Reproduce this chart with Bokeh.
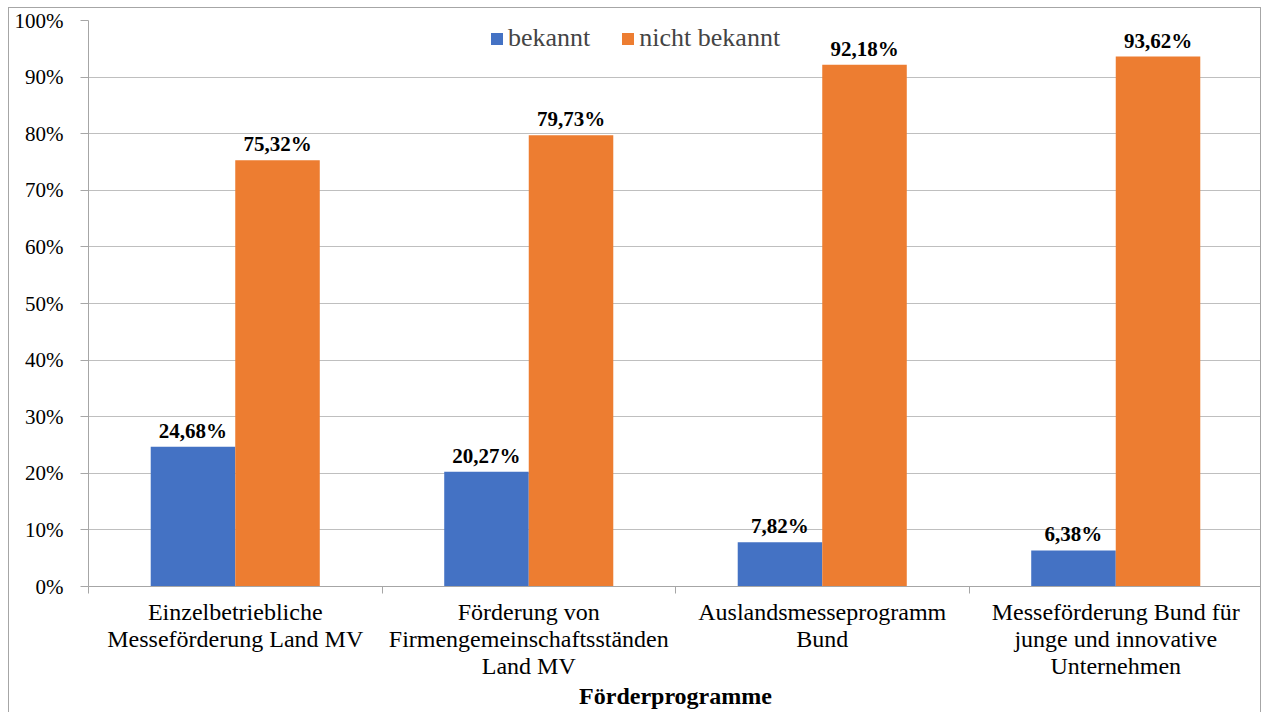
from bokeh.plotting import figure
from bokeh.models import (Range1d, LinearAxis, FixedTicker,
                          PrintfTickFormatter, ColumnDataSource, Legend, LegendItem)
from bokeh.transform import dodge
from bokeh.core.properties import value
from bokeh.embed import file_html
from bokeh.resources import INLINE

categories = ["Einzelbetriebliche\nMesseförderung Land MV",
              "Förderung von\nFirmengemeinschaftsständen\nLand MV",
              "Auslandsmesseprogramm\nBund",
              "Messeförderung Bund für\njunge und innovative\nUnternehmen"]
bekannt = [24.68, 20.27, 7.82, 6.38]
nicht_bekannt = [75.32, 79.73, 92.18, 93.62]
series_names = ["bekannt", "nicht bekannt"]
y_ticks = [0, 10, 20, 30, 40, 50, 60, 70, 80, 90, 100]
x_title = "Förderprogramme"

FONT = "Liberation Serif"
BLUE = "#4472C4"
ORANGE = "#ED7D31"
GRID = "#bfbfbf"
AXIS = "#a6a6a6"

n_cat = len(categories)
centers = [i + 0.5 for i in range(n_cat)]
bounds = list(range(n_cat + 1))

src = ColumnDataSource(dict(
    xc=centers, b=bekannt, n=nicht_bekannt,
    bl=[("%.2f%%" % v).replace(".", ",") for v in bekannt],
    nl=[("%.2f%%" % v).replace(".", ",") for v in nicht_bekannt],
))

p = figure(width=1253, height=705, x_range=Range1d(0, n_cat),
           y_range=Range1d(0, 100), output_backend="svg", toolbar_location=None,
           x_axis_location=None, y_axis_location=None,
           min_border_left=79, min_border_right=0, min_border_top=12, min_border_bottom=127)
p.outline_line_color = None
p.styles = {"margin-left": "8px", "margin-top": "7px",
            "border-top": "1px solid #a6a6a6", "border-left": "1px solid #a6a6a6",
            "border-right": "1px solid #a6a6a6"}
p.xgrid.grid_line_color = None
p.ygrid.grid_line_color = GRID
p.ygrid.ticker = FixedTicker(ticks=y_ticks)

W = 0.288
rb = p.vbar(x=dodge("xc", -W / 2), top="b", width=W, source=src,
            fill_color=BLUE, line_color=None)
rn = p.vbar(x=dodge("xc", W / 2), top="n", width=W, source=src,
            fill_color=ORANGE, line_color=None)

for col, lab, off in (("b", "bl", -W / 2), ("n", "nl", W / 2)):
    p.text(x=dodge("xc", off), y=col, text=lab, source=src,
           text_align="center", text_baseline="alphabetic", y_offset=-16,
           text_font=value(FONT), text_font_size="21px", text_font_style="bold",
           text_color="black")

# y axis
yax = LinearAxis(ticker=FixedTicker(ticks=y_ticks), formatter=PrintfTickFormatter(format="%d%%"))
yax.axis_line_color = AXIS
yax.major_tick_line_color = AXIS
yax.major_tick_out = 8
yax.major_tick_in = 0
yax.minor_tick_line_color = None
yax.major_label_standoff = 17
yax.major_label_text_font = FONT
yax.major_label_text_font_size = "21px"
yax.major_label_text_color = "black"
p.add_layout(yax, "left")

# tick-only axis at category boundaries
tax = LinearAxis(ticker=FixedTicker(ticks=bounds))
tax.axis_line_color = AXIS
tax.major_tick_line_color = AXIS
tax.major_tick_out = 7
tax.major_tick_in = 0
tax.minor_tick_line_color = None
tax.major_label_overrides = {b: "" for b in bounds}
tax.major_label_text_font_size = "1px"
tax.major_label_standoff = 0
p.add_layout(tax, "below")

# category labels axis
cax = LinearAxis(ticker=FixedTicker(ticks=centers))
cax.axis_line_color = None
cax.major_tick_line_color = None
cax.minor_tick_line_color = None
cax.major_tick_out = 0
cax.major_label_overrides = dict(zip(centers, categories))
cax.major_label_text_font = FONT
cax.major_label_text_font_size = "24px"
cax.major_label_text_line_height = 1.05
cax.major_label_text_color = "black"
cax.major_label_standoff = 5
cax.axis_label = x_title
cax.axis_label_text_font = FONT
cax.axis_label_text_font_size = "24px"
cax.axis_label_text_font_style = "bold"
cax.axis_label_text_color = "black"
cax.axis_label_standoff = 1
p.add_layout(cax, "below")

legend = Legend(items=[LegendItem(label=series_names[0], renderers=[rb]),
                       LegendItem(label=series_names[1], renderers=[rn])],
                orientation="horizontal", location=(401, 533),
                border_line_color=None, background_fill_alpha=0,
                label_text_font=FONT, label_text_font_size="26px",
                glyph_width=15, glyph_height=15, label_standoff=4, spacing=30,
                padding=4, margin=0)
p.add_layout(legend)

open("out.html", "w").write(file_html(p, INLINE))
